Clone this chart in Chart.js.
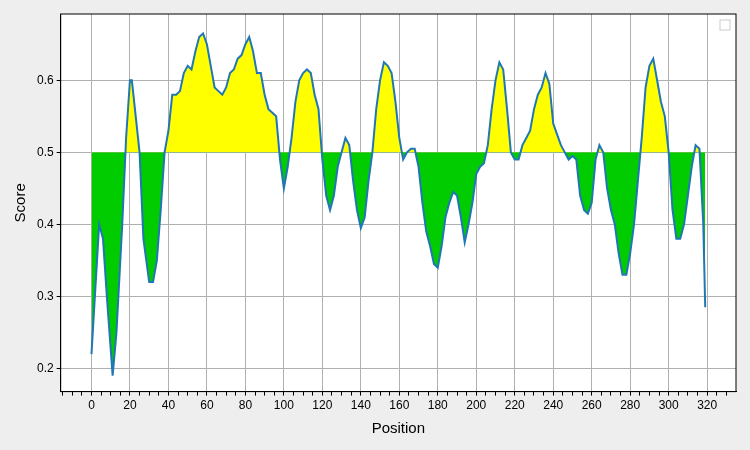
<!DOCTYPE html>
<html>
<head>
<meta charset="utf-8">
<script src="https://cdn.jsdelivr.net/npm/chart.js@4.4.0/dist/chart.umd.min.js"></script>
<style>
  body { margin: 0; background: #eeeeee; }
</style>
</head>
<body>
<canvas id="chart" width="750" height="450"></canvas>
<script>
    const positions = [0, 4, 6, 8, 11, 13, 16, 18, 20, 21, 23, 25, 27, 30, 32, 34, 36, 38, 40, 42, 44, 46, 48, 50,
        52, 54, 56, 58, 60, 62, 64, 66, 68, 70, 72, 74, 76, 78, 80, 82, 84, 86, 88, 90, 92, 94, 96, 98, 100,
        102, 104, 106, 108, 110, 112, 114, 116, 118, 120, 122, 124, 126, 128, 130, 132, 134, 136, 138, 140,
        142, 144, 146, 148, 150, 152, 154, 156, 158, 160, 162, 164, 166, 168, 170, 172, 174, 176, 178, 180,
        182, 184, 186, 188, 190, 192, 194, 196, 198, 200, 202, 204, 206, 208, 210, 212, 214, 216, 218, 220,
        222, 224, 226, 228, 230, 232, 234, 236, 238, 240, 242, 244, 246, 248, 250, 252, 254, 256, 258, 260,
        262, 264, 266, 268, 270, 272, 274, 276, 278, 280, 282, 284, 286, 288, 290, 292, 294, 296, 298, 300,
        302, 304, 306, 308, 310, 312, 314, 316, 318, 319];
    const scores = [0.22, 0.40, 0.38, 0.30, 0.19, 0.25, 0.40, 0.52, 0.60, 0.60, 0.55, 0.50, 0.38, 0.32, 0.32, 0.35,
        0.42, 0.50, 0.53, 0.58, 0.58, 0.585, 0.61, 0.62, 0.615, 0.64, 0.66, 0.665, 0.65, 0.62, 0.59, 0.585,
        0.58, 0.59, 0.61, 0.615, 0.63, 0.635, 0.65, 0.66, 0.64, 0.61, 0.61, 0.58, 0.56, 0.555, 0.55, 0.49,
        0.45, 0.48, 0.52, 0.57, 0.60, 0.61, 0.615, 0.61, 0.58, 0.56, 0.49, 0.44, 0.42, 0.44, 0.48, 0.50,
        0.52, 0.51, 0.46, 0.42, 0.395, 0.41, 0.46, 0.50, 0.56, 0.60, 0.625, 0.62, 0.61, 0.57, 0.52, 0.49,
        0.50, 0.505, 0.505, 0.48, 0.43, 0.39, 0.37, 0.345, 0.34, 0.37, 0.41, 0.43, 0.445, 0.44, 0.41, 0.375,
        0.40, 0.43, 0.47, 0.48, 0.485, 0.51, 0.56, 0.60, 0.625, 0.615, 0.56, 0.50, 0.49, 0.49, 0.51, 0.52,
        0.53, 0.56, 0.58, 0.59, 0.61, 0.595, 0.54, 0.525, 0.51, 0.50, 0.49, 0.495, 0.49, 0.44, 0.42, 0.415,
        0.43, 0.49, 0.51, 0.50, 0.45, 0.42, 0.40, 0.36, 0.33, 0.33, 0.36, 0.40, 0.46, 0.52, 0.59, 0.62,
        0.63, 0.60, 0.57, 0.55, 0.50, 0.42, 0.38, 0.38, 0.40, 0.44, 0.48, 0.51, 0.505, 0.40, 0.285];
    const threshold = 0.5;
    const xTickLabels = [0, 20, 40, 60, 80, 100, 120, 140, 160, 180, 200, 220, 240, 260, 280, 300, 320];

    const points = positions.map((p, i) => ({ x: p, y: scores[i] }));

    const plotBg = {
        id: 'plotBg',
        beforeDraw(chart) {
            const { ctx, chartArea: a } = chart;
            ctx.save();
            ctx.fillStyle = '#ffffff';
            ctx.fillRect(a.left, a.top, a.right - a.left, a.bottom - a.top);
            ctx.restore();
        },
        afterDraw(chart) {
            const { ctx, chartArea: a } = chart;
            ctx.save();
            ctx.strokeStyle = '#000';
            ctx.lineWidth = 1;
            ctx.strokeRect(a.left, a.top, a.right - a.left, a.bottom - a.top);
            // empty legend box, top right
            ctx.strokeStyle = '#cccccc';
            ctx.fillStyle = '#ffffff';
            ctx.fillRect(a.right - 16, a.top + 6, 10, 10);
            ctx.strokeRect(a.right - 16, a.top + 6, 10, 10);
            ctx.restore();
        }
    };

    new Chart(document.getElementById('chart'), {
        type: 'scatter',
        data: {
            datasets: [{
                data: points,
                showLine: true,
                borderColor: '#1f77b4',
                borderWidth: 2,
                pointRadius: 0,
                tension: 0,
                fill: { target: { value: threshold }, above: '#ffff00', below: '#00cc00' }
            }]
        },
        options: {
            responsive: false,
            animation: false,
            layout: { padding: { left: 8, right: 14, top: 14, bottom: 8 } },
            plugins: { legend: { display: false }, tooltip: { enabled: false } },
            scales: {
                x: {
                    type: 'linear', min: -16, max: 335,
                    afterBuildTicks: axis => {
                        const t = [];
                        for (let v = -15; v <= 330; v += 5) t.push({ value: v });
                        axis.ticks = t;
                    },
                    ticks: {
                        autoSkip: false, maxRotation: 0, color: '#000', font: { size: 12 },
                        callback: v => xTickLabels.includes(v) ? String(v) : ''
                    },
                    grid: {
                        color: c => xTickLabels.includes(c.tick.value) ? '#b0b0b0' : 'rgba(0,0,0,0)',
                        tickColor: '#000', tickLength: 4
                    },
                    border: { color: '#000' },
                    title: { display: true, text: 'Position', color: '#000', font: { size: 15 } }
                },
                y: {
                    min: 0.168, max: 0.692,
                    afterBuildTicks: axis => {
                        axis.ticks = [0.2, 0.3, 0.4, 0.5, 0.6].map(v => ({ value: v }));
                    },
                    ticks: { color: '#000', font: { size: 12 }, callback: v => v.toFixed(1) },
                    grid: { color: '#b0b0b0', tickColor: '#000', tickLength: 4 },
                    border: { color: '#000' },
                    title: { display: true, text: 'Score', color: '#000', font: { size: 15 } }
                }
            }
        },
        plugins: [plotBg]
    });
</script>
</body>
</html>
